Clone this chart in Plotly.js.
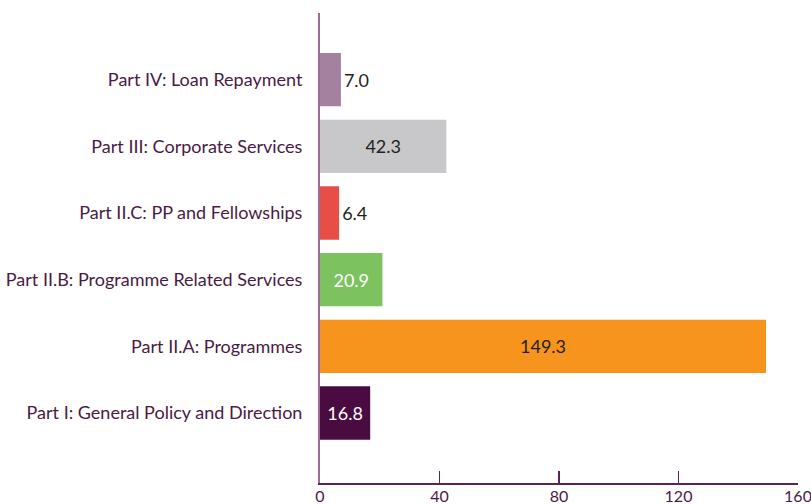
<!DOCTYPE html>
<html>
<head>
<meta charset="utf-8">
<script src="https://cdn.plot.ly/plotly-3.0.1.min.js"></script>
<style>body{margin:0;background:#fff}</style>
</head>
<body>
<div id="myDiv" style="width:811px;height:504px"></div>
<script>
// bottom to top, as drawn
var parts = [
    'Part I: General Policy and Direction',
    'Part II.A: Programmes',
    'Part II.B: Programme Related Services',
    'Part II.C: PP and Fellowships',
    'Part III: Corporate Services',
    'Part IV: Loan Repayment'
];
var amounts = [16.8, 149.3, 20.9, 6.4, 42.3, 7.0];
var barColors = ['#4a0c40', '#f7941e', '#7cc25e', '#e84e48', '#c8c8ca', '#a4819f'];
var labelColors = ['#ffffff', '#231f20', '#ffffff', '#231f20', '#231f20', '#231f20'];
var labelPos = ['inside', 'inside', 'inside', 'outside', 'inside', 'outside'];
var xTicks = [0, 40, 80, 120, 160];

var font = 'Lato, "Open Sans", sans-serif';

var data = [{
    type: 'bar',
    orientation: 'h',
    y: parts,
    x: amounts,
    marker: {color: barColors},
    text: amounts.map(function (v) { return v.toFixed(1); }),
    textposition: labelPos,
    insidetextanchor: 'middle',
    textfont: {family: font, size: 18, color: labelColors},
    outsidetextfont: {family: font, size: 18, color: '#231f20'},
    cliponaxis: false,
    hoverinfo: 'none'
}];

var layout = {
    width: 811,
    height: 504,
    margin: {l: 320, r: 13, t: 13, b: 21},
    bargap: 0.2,
    showlegend: false,
    paper_bgcolor: '#ffffff',
    plot_bgcolor: '#ffffff',
    xaxis: {
        range: [0, 160],
        tickvals: xTicks,
        ticktext: xTicks.map(String),
        showgrid: false,
        zeroline: false,
        showline: true,
        linecolor: '#5b2456',
        linewidth: 2,
        ticks: 'inside',
        ticklen: 12,
        tickwidth: 1.5,
        tickcolor: '#5b2456',
        ticklabeloverflow: 'allow',
        ticklabelstandoff: -2,
        tickfont: {family: font, size: 16, color: '#4a1a45'},
        fixedrange: true
    },
    yaxis: {
        type: 'category',
        range: [-1.05, 6.0],
        showgrid: false,
        zeroline: false,
        showline: true,
        linecolor: '#9b6d96',
        linewidth: 2,
        ticks: '',
        ticklabelstandoff: 12,
        tickfont: {family: font, size: 18, color: '#4a1a45'},
        fixedrange: true
    }
};

Plotly.newPlot('myDiv', data, layout, {displayModeBar: false, staticPlot: true});
</script>
</body>
</html>
